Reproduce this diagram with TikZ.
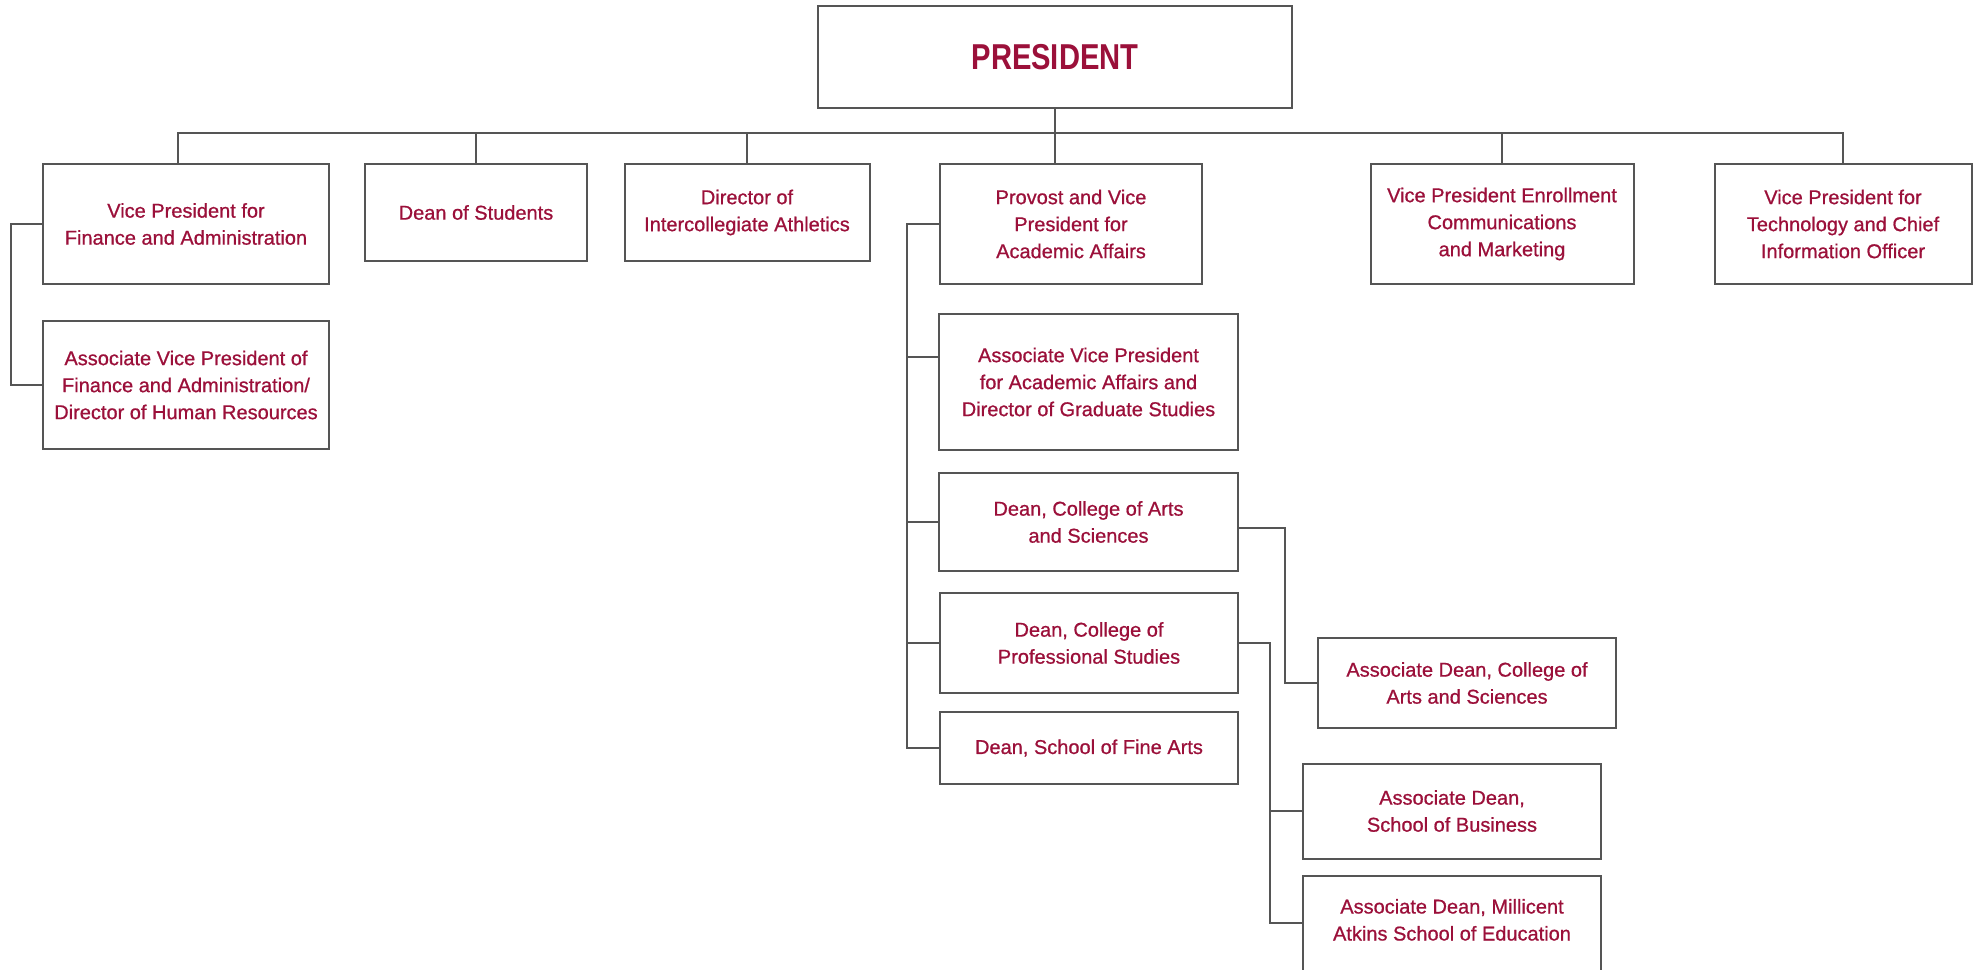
\documentclass[tikz,border=0pt]{standalone}
\usepackage{fontspec}
\setmainfont{Liberation Sans}[FakeBold=0.8]
\newfontfamily\presfont{Liberation Sans}[FakeStretch=0.81]
\usepackage{tikz}
\usetikzlibrary{positioning,calc}
\definecolor{titlered}{RGB}{155,16,58}
\definecolor{linegray}{RGB}{85,85,85}

\begin{document}
\begin{tikzpicture}[x=0.5pt,y=-0.5pt,
  office/.style={draw=linegray,line width=1pt,text=titlered,align=center,inner sep=0pt,
    font=\fontsize{10}{13.5}\selectfont},
  link/.style={draw=linegray,line width=0.75pt}]
\useasboundingbox (0,0) rectangle (1980,969);
% top level
\node[office,minimum width=237pt,minimum height=51pt,
  font=\presfont\bfseries\fontsize{18}{20}\selectfont] (pres) at (1055,57) {PRESIDENT};
\node[office,minimum width=143pt,minimum height=60pt] (vpfa) at (186,224) {Vice President for\\Finance and Administration};
\node[office,minimum width=111pt,minimum height=48.5pt] (dos) at (476,212.5) {Dean of Students};
\node[office,minimum width=122.5pt,minimum height=48.5pt] (dia) at (747,212.5) {Director of\\Intercollegiate Athletics};
\node[office,minimum width=131pt,minimum height=60pt] (prov) at (1071,224) {Provost and Vice\\President for\\Academic Affairs};
\node[office,minimum width=131.5pt,minimum height=60pt] (vpem) at (1502,224) {Vice President Enrollment\\Communications\\and Marketing};
\node[office,minimum width=128.5pt,minimum height=60pt] (vpti) at (1843,224) {Vice President for\\Technology and Chief\\Information Officer};
% finance
\node[office,minimum width=143pt,minimum height=64pt] (avpfa) at (186,385) {Associate Vice President of\\Finance and Administration/\\Director of Human Resources};
% academic affairs
\node[office,minimum width=149.5pt,minimum height=68pt] (avpaa) at (1088.5,382) {Associate Vice President\\for Academic Affairs and\\Director of Graduate Studies};
\node[office,minimum width=149.5pt,minimum height=49pt] (dcas) at (1088.5,522) {Dean, College of Arts\\and Sciences};
\node[office,minimum width=149pt,minimum height=50pt] (dcps) at (1089,643) {Dean, College of\\Professional Studies};
\node[office,minimum width=149pt,minimum height=36pt] (dsfa) at (1089,748) {Dean, School of Fine Arts};
\node[office,minimum width=149pt,minimum height=45pt] (adcas) at (1467,683) {Associate Dean, College of\\Arts and Sciences};
\node[office,minimum width=149pt,minimum height=47.5pt] (adsb) at (1452,811) {Associate Dean,\\School of Business};
\node[office,minimum width=149pt,inner ysep=11.5pt,text depth=40pt,anchor=north] (adme) at (1452,875) {Associate Dean, Millicent\\Atkins School of Education};

\coordinate (bus) at (0,133);
\coordinate (lbar) at (11,0);
\coordinate (pbar) at (907,0);
\coordinate (abar) at (1285,0);
\coordinate (sbar) at (1270,0);
\coordinate (edlink) at ([yshift=-24pt]adme.north west);

% lines
\draw[link] (pres.south) -- (pres.south |- prov.north);
\draw[link] ([xshift=-4pt]vpfa.north) |- (vpti.north |- bus) -- (vpti.north);
\foreach \n in {dos,dia,vpem}
  \draw[link] (\n.north) -- (\n.north |- bus);
\draw[link] (vpfa.west) -- (vpfa.west -| lbar) |- (avpfa.west);
\draw[link] (prov.west) -- (prov.west -| pbar) |- (dsfa.west);
\draw[link] ([yshift=12.5pt]avpaa.west) -- ([yshift=12.5pt]avpaa.west -| pbar);
\foreach \n in {dcas,dcps}
  \draw[link] (\n.west) -- (\n.west -| pbar);
\draw[link] ([yshift=-3pt]dcas.east) -| (abar |- adcas.west) -- (adcas.west);
\draw[link] (dcps.east) -| (edlink -| sbar) -- (edlink);
\draw[link] (sbar |- adsb.west) -- (adsb.west);
\end{tikzpicture}
\end{document}
